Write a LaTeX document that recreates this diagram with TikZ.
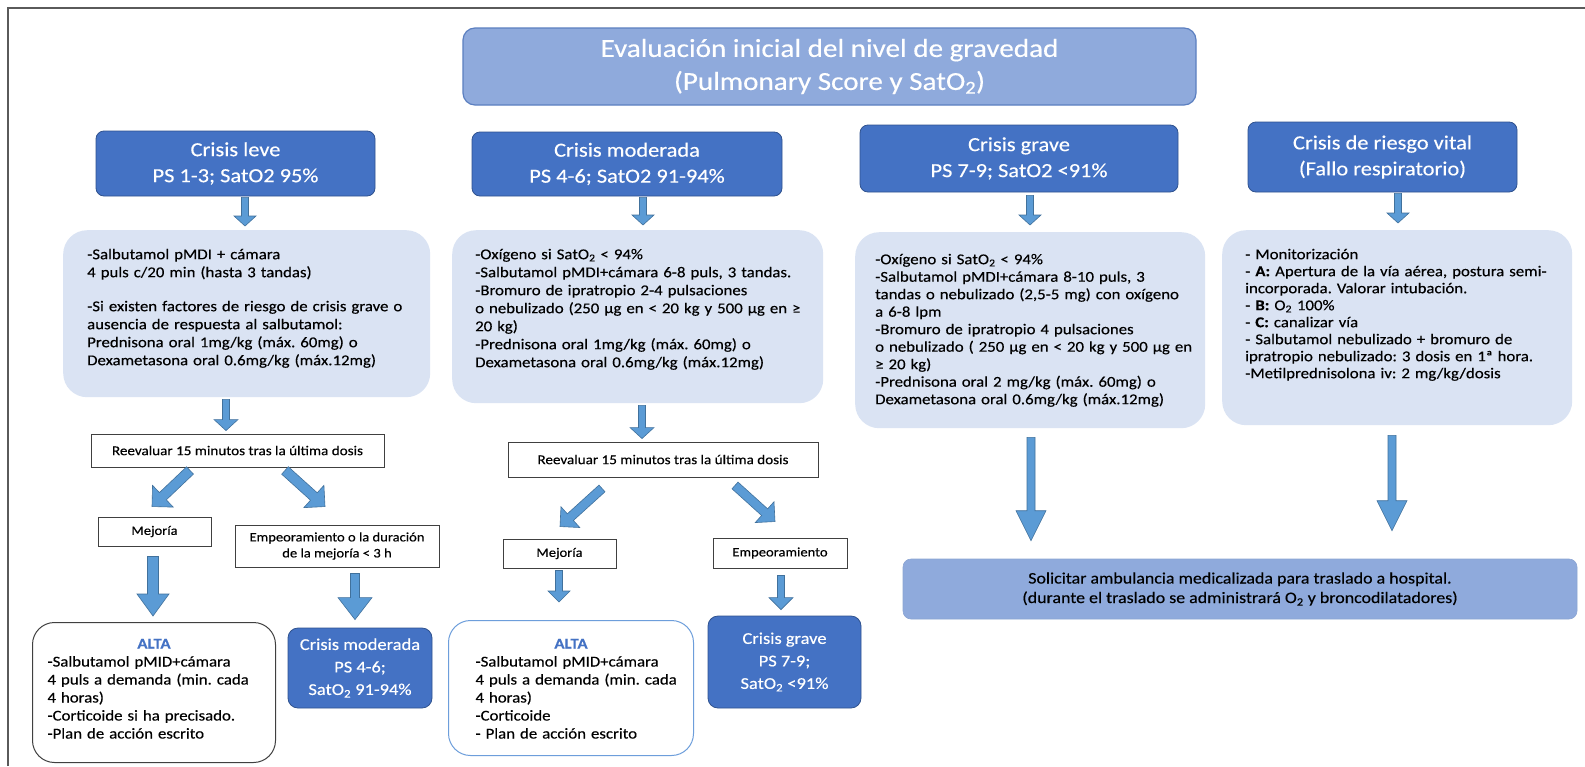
\documentclass[tikz,border=0pt]{standalone}
\usepackage{fontspec}
\setmainfont[FakeStretch=1.12,FakeBold=0.3]{Carlito}
\usetikzlibrary{calc}
\frenchspacing
\definecolor{hdrblue}{HTML}{4472C4}
\definecolor{hdrline}{HTML}{2F528F}
\definecolor{titlefill}{HTML}{8FAADC}
\definecolor{titleline}{HTML}{5B7FC0}
\definecolor{cfill}{HTML}{DAE3F3}
\definecolor{arrfill}{HTML}{5B9BD5}
\definecolor{arrline}{HTML}{41719C}
\definecolor{boxline}{HTML}{404040}
\definecolor{altatwoline}{HTML}{6D9EDB}
\definecolor{framegray}{HTML}{5A5A5A}
\newcommand\padtext[1]{\leftskip=#1pt\rightskip=-40pt plus 1fil\relax}
\newcommand\altaline{\makebox[\dimexpr\linewidth-2\leftskip\relax][c]{\textbf{\color{hdrblue}ALTA}}}
\newcommand\barr[5]{%
  \coordinate (tmpH) at ($(#2)!#5!(#1)$);
  \filldraw[arrsty] ($(#1)!#3!90:(#2)$) -- ($(tmpH)!#3!90:(#2)$) -- ($(tmpH)!#4!90:(#2)$) -- (#2)
    -- ($(tmpH)!#4!-90:(#2)$) -- ($(tmpH)!#3!-90:(#2)$) -- ($(#1)!#3!-90:(#2)$) -- cycle;}
\begin{document}
\begin{tikzpicture}[x=1pt,y=-1pt,
  arrsty/.style={fill=arrfill,draw=arrline,line width=0.6pt,line join=miter},
  titlebox/.style={draw=titleline,fill=titlefill,line width=1.2pt,rounded corners=12pt,text=white,
    align=center,inner sep=0pt,font=\fontsize{26}{33}\selectfont},
  hdr/.style={draw=hdrline,fill=hdrblue,line width=0.8pt,rounded corners=8pt,text=white,
    align=center,inner sep=0pt,font=\fontsize{20}{26}\selectfont},
  cnt/.style={fill=cfill,rounded corners=24pt,anchor=north west,inner sep=0pt,align=left},
  plain/.style={draw=boxline,fill=white,line width=0.9pt,align=center,inner sep=0pt,
    font=\fontsize{13}{16}\selectfont},
  alta/.style={fill=white,line width=1pt,rounded corners=22pt,anchor=north west,inner sep=0pt,
    align=left,font=\fontsize{15}{18}\selectfont},
  smallcrisis/.style={draw=hdrline,fill=hdrblue,line width=0.8pt,rounded corners=10pt,text=white,
    align=center,inner sep=0pt,font=\fontsize{16.5}{22.5}\selectfont},
  amb/.style={draw=titleline!70,fill=titlefill,line width=0.6pt,rounded corners=8pt,
    align=center,inner sep=0pt,font=\fontsize{16}{19.5}\selectfont}]
\useasboundingbox (0,0) rectangle (1585,766);
\fill[white] (0,0) rectangle (1585,766);
\draw[framegray,line width=1.5pt] (8,766) -- (8,8) -- (1585,8);

% title
\node[titlebox,minimum width=733pt,minimum height=77pt] (title) at (829.5,66.5)
  {Evaluación inicial del nivel de gravedad\\(Pulmonary Score y SatO\textsubscript{2})};

% headers
\node[hdr,minimum width=279pt,minimum height=65pt] (h1) at (235.5,163.5) {Crisis leve\\PS 1-3; SatO2 95\%};
\node[hdr,minimum width=310pt,minimum height=64pt] (h2) at (627,164) {Crisis moderada\\PS 4-6; SatO2 91-94\%};
\node[hdr,minimum width=318pt,minimum height=67pt] (h3) at (1019,158.5) {Crisis grave\\PS 7-9; SatO2 <91\%};
\node[hdr,minimum width=269pt,minimum height=70pt] (h4) at (1382.5,157) {Crisis de riesgo vital\\(Fallo respiratorio)};

% content boxes
\node[cnt,text width=367pt,text height=29pt,text depth=138pt,font=\fontsize{15}{18}\selectfont] (c1) at (63,230)
  {\padtext{24}-Salbutamol pMDI + cámara\\
   4 puls c/20 min (hasta 3 tandas)\\[16pt]
   -Si existen factores de riesgo de crisis grave o\\
   ausencia de respuesta al salbutamol:\\
   Prednisona oral 1mg/kg (máx. 60mg) o\\
   Dexametasona oral 0.6mg/kg (máx.12mg)\par};
\node[cnt,text width=371pt,text height=29pt,text depth=144pt,font=\fontsize{15}{18}\selectfont] (c2) at (452,230)
  {\padtext{23}-Oxígeno si SatO\textsubscript{2} < 94\%\\
   -Salbutamol pMDI+cámara 6-8 puls, 3 tandas.\\
   -Bromuro de ipratropio 2-4 pulsaciones\\
   o nebulizado (250 µg en < 20 kg y 500 µg en ≥\\
   20 kg)\\
   -Prednisona oral 1mg/kg (máx. 60mg) o\\
   Dexametasona oral 0.6mg/kg (máx.12mg)\par};
\node[cnt,text width=350pt,text height=32pt,text depth=164pt,font=\fontsize{15}{17.5}\selectfont] (c3) at (855,232)
  {\padtext{20}-Oxígeno si SatO\textsubscript{2} < 94\%\\
   -Salbutamol pMDI+cámara 8-10 puls, 3\\
   tandas o nebulizado (2,5-5 mg) con oxígeno\\
   a 6-8 lpm\\
   -Bromuro de ipratropio 4 pulsaciones\\
   o nebulizado ( 250 µg en < 20 kg y 500 µg en\\
   ≥ 20 kg)\\
   -Prednisona oral 2 mg/kg (máx. 60mg) o\\
   Dexametasona oral 0.6mg/kg (máx.12mg)\par};
\node[cnt,text width=350pt,text height=29pt,text depth=166pt,font=\fontsize{15}{17}\selectfont] (c4) at (1222,230)
  {\padtext{23}- Monitorización\\
   - \textbf{A:} Apertura de la vía aérea, postura semi-\\
   incorporada. Valorar intubación.\\
   - \textbf{B:} O\textsubscript{2} 100\%\\
   - \textbf{C:} canalizar vía\\
   - Salbutamol nebulizado + bromuro de\\
   ipratropio nebulizado: 3 dosis en 1ª hora.\\
   -Metilprednisolona iv: 2 mg/kg/dosis\par};

% reevaluation boxes
\node[plain,minimum width=293pt,minimum height=33pt,font=\fontsize{13.5}{16}\selectfont] (rv1) at (237.5,450.5) {Reevaluar 15 minutos tras la última dosis};
\node[plain,minimum width=310pt,minimum height=35pt,font=\fontsize{13.5}{16}\selectfont] (rv2) at (663,459.5) {Reevaluar 15 minutos tras la última dosis};
\node[plain,minimum width=113pt,minimum height=29pt] (mj1) at (154.5,531.5) {Mejoría};
\node[plain,minimum width=204pt,minimum height=42pt] (em1) at (337,546) {Empeoramiento o la duración\\de la mejoría < 3 h};
\node[plain,minimum width=113pt,minimum height=29pt] (mj2) at (559.5,553.5) {Mejoría};
\node[plain,minimum width=134pt,minimum height=30pt] (em2) at (780,553) {Empeoramiento};

% outcome boxes
\node[alta,draw=boxline,text width=243pt,text height=26pt,text depth=114pt] (al1) at (32,622)
  {\padtext{15}\altaline\\
   -Salbutamol pMID+cámara\\
   4 puls a demanda (min. cada\\
   4 horas)\\
   -Corticoide si ha precisado.\\
   -Plan de acción escrito\par};
\node[alta,draw=altatwoline,text width=245pt,text height=28pt,text depth=107pt] (al2) at (448,620)
  {\padtext{27}\altaline\\
   -Salbutamol pMID+cámara\\
   4 puls a demanda (min. cada\\
   4 horas)\\
   -Corticoide\\
   - Plan de acción escrito\par};
\node[smallcrisis,minimum width=144pt,minimum height=80pt] (cm) at (360,668) {Crisis moderada\\PS 4-6;\\SatO\textsubscript{2} 91-94\%};
\node[smallcrisis,minimum width=153pt,minimum height=92pt] (cg) at (784.5,662) {Crisis grave\\PS 7-9;\\SatO\textsubscript{2} <91\%};
\node[amb,minimum width=674pt,minimum height=60pt] (amb) at (1240,589)
  {Solicitar ambulancia medicalizada para traslado a hospital.\\(durante el traslado se administrará O\textsubscript{2} y broncodilatadores)};

% arrow end points
\coordinate (a1s) at ($(245,0 |- h1.south)+(0,1)$);   \coordinate (a1e) at ($(245,0 |- c1.north)+(0,-4)$);
\coordinate (a2s) at ($(643,0 |- h2.south)+(0,1)$);   \coordinate (a2e) at ($(643,0 |- c2.north)+(0,-5)$);
\coordinate (a3s) at ($(1030,0 |- h3.south)+(0,3)$);  \coordinate (a3e) at ($(1030,0 |- c3.north)+(0,-7)$);
\coordinate (a4s) at ($(1398,0 |- h4.south)+(0,1)$);  \coordinate (a4e) at ($(1398,0 |- c4.north)+(0,-7)$);
\coordinate (r1s) at ($(226,0 |- c1.south)+(0,2)$);   \coordinate (r1e) at ($(226,0 |- rv1.north)+(0,-3)$);
\coordinate (r2s) at ($(642,0 |- c2.south)+(0,2)$);   \coordinate (r2e) at ($(642,0 |- rv2.north)+(0,-3)$);
\coordinate (d1ls) at ($(rv1.south)+(-47.5,3)$);      \coordinate (d1le) at ($(mj1.north)+(-2.5,-10)$);
\coordinate (d1rs) at ($(rv1.south)+(47.5,3)$);       \coordinate (d1re) at ($(em1.north)+(-12,-18)$);
\coordinate (d2ls) at ($(rv2.south)+(-61,11)$);       \coordinate (d2le) at ($(mj2.north)+(0.5,-12)$);
\coordinate (d2rs) at ($(rv2.south)+(72,8)$);         \coordinate (d2re) at ($(em2.north)+(-5,-16)$);
\coordinate (m1s) at ($(153,0 |- mj1.south)+(0,10)$); \coordinate (m1e) at ($(153,0 |- al1.north)+(0,-6)$);
\coordinate (e1s) at ($(355,0 |- em1.south)+(0,6)$);  \coordinate (e1e) at ($(355,0 |- cm.north)+(0,-8)$);
\coordinate (m2s) at ($(559,0 |- mj2.south)+(0,2)$);  \coordinate (m2e) at ($(559,0 |- al2.north)+(0,-18)$);
\coordinate (e2s) at ($(781,0 |- em2.south)+(0,7)$);  \coordinate (e2e) at ($(781,0 |- cg.north)+(0,-6)$);
\coordinate (g3s) at ($(1031,0 |- c3.south)+(0,9)$);  \coordinate (g3e) at ($(1031,0 |- amb.north)+(0,-18)$);
\coordinate (g4s) at ($(1392,0 |- c4.south)+(0,10)$); \coordinate (g4e) at ($(1392,0 |- amb.north)+(0,-28)$);

% block arrows
\barr{a1s}{a1e}{3.5pt}{11pt}{10pt}
\barr{a2s}{a2e}{3.5pt}{11pt}{10pt}
\barr{a3s}{a3e}{3.5pt}{11pt}{10pt}
\barr{a4s}{a4e}{3.5pt}{11pt}{10pt}
\barr{r1s}{r1e}{3.5pt}{12pt}{11pt}
\barr{r2s}{r2e}{3.5pt}{12pt}{11pt}
\barr{d1ls}{d1le}{5pt}{15pt}{15pt}
\barr{d1rs}{d1re}{5pt}{15pt}{15pt}
\barr{d2ls}{d2le}{4.5pt}{14pt}{14pt}
\barr{d2rs}{d2re}{4.5pt}{14pt}{14pt}
\barr{m1s}{m1e}{5.5pt}{16pt}{22pt}
\barr{e1s}{e1e}{4.5pt}{17pt}{22pt}
\barr{m2s}{m2e}{3.5pt}{11pt}{11pt}
\barr{e2s}{e2e}{3.5pt}{12pt}{12pt}
\barr{g3s}{g3e}{4pt}{15pt}{30pt}
\barr{g4s}{g4e}{4pt}{15pt}{30pt}
\end{tikzpicture}
\end{document}
